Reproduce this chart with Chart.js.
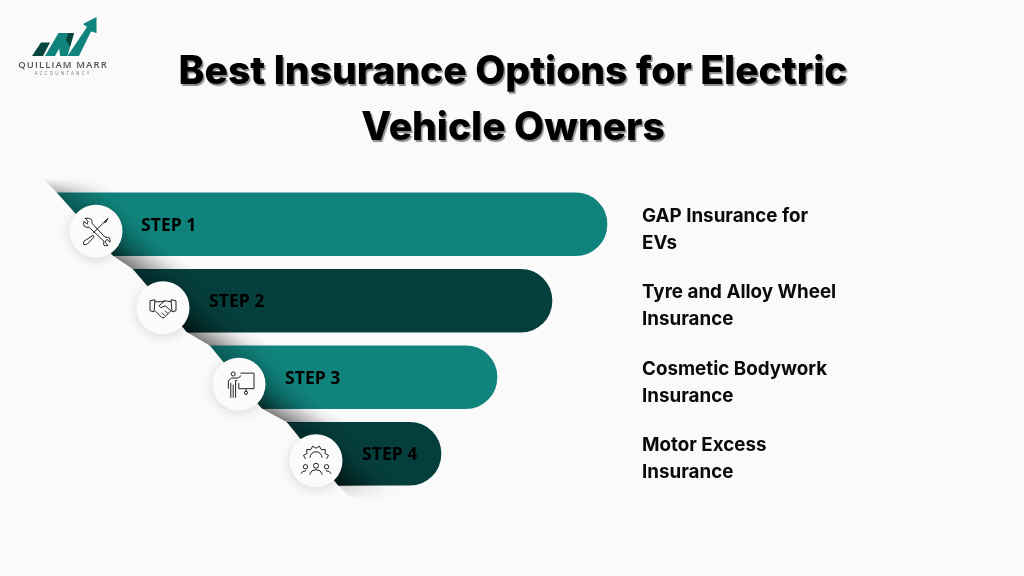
<!DOCTYPE html>
<html><head><meta charset="utf-8">
<style>
html,body{margin:0;padding:0;background:#fafafa;width:1024px;height:576px;overflow:hidden}
#c{position:absolute;left:0;top:0}
h1{position:absolute;left:0;width:1026px;top:42px;margin:0;text-align:center;font:800 39px/56px Inter,sans-serif;color:#000;text-shadow:1.5px 2px 1px #8a8a8a}
#logo{position:absolute;left:25px;top:10px}
.lg{position:absolute;left:0;width:126px;text-align:center;font-family:"Open Sans",sans-serif;color:#555;white-space:nowrap}
</style></head><body>
<canvas id="c" width="1024" height="576"></canvas>
<h1>Best Insurance Options for Electric<br>Vehicle Owners</h1>
<svg id="logo" width="85" height="50" viewBox="25 10 85 50">
<polygon points="32,56 41,42.5 50,42.5 43,56" fill="#07453f"/>
<polygon points="45,56 58.5,33 68,33 55,56" fill="#10837d"/>
<polygon points="59,46 68,33 74,33 67.5,56 60,56" fill="#10837d"/>
<polygon points="68,33 74,33 70,47 66,40" fill="#07453f"/>
<polygon points="67.5,56 79,56 91,31.5 96.5,33 96.5,17 83,24 87,27" fill="#10837d"/>
</svg>
<div class="lg" style="top:58px;font-size:9.5px;line-height:14px;font-weight:600;letter-spacing:1.1px;">QUILLIAM MARR</div>
<div class="lg" style="top:69px;font-size:4.5px;line-height:8px;letter-spacing:2.2px;color:#777">ACCOUNTANCY</div>
<script src="https://cdn.jsdelivr.net/npm/chart.js@4/dist/chart.umd.min.js"></script>
<script>
const categories=[["GAP Insurance for","EVs"],["Tyre and Alloy Wheel","Insurance"],["Cosmetic Bodywork","Insurance"],["Motor Excess","Insurance"]];
const stepLabels=["STEP 1","STEP 2","STEP 3","STEP 4"];
const barStarts=[57,133,210,287];
const barCutEnds=[113,187,262,338];
const barEnds=[607,552,497,441];
const barColors=["#10837d","#053f3d","#10837d","#053f3d"];
const circleX=[96,163,239,316];
const stepLabelX=[141,209,285,362];

const icons=[
 c=>{c.moveTo(-11,-13);c.lineTo(-8,-10);c.lineTo(-9,-7);c.lineTo(-12,-10);c.quadraticCurveTo(-14,-3,-7,-4);c.lineTo(8,10);c.quadraticCurveTo(6,16,12,14);c.lineTo(9,11);c.lineTo(11,8);c.lineTo(14,11);c.quadraticCurveTo(15,5,9,6);c.lineTo(-4,-8);c.quadraticCurveTo(-3,-14,-11,-13);
  c.moveTo(10,-11);c.lineTo(-3,2);c.moveTo(-3,4);c.lineTo(-12,10);c.quadraticCurveTo(-14,15,-9,13);c.lineTo(-2,6);c.closePath();c.moveTo(8,-9);c.lineTo(12,-13);c.lineTo(10,-9);c.closePath();},
 c=>{c.moveTo(-13,-7);c.lineTo(-8,-8);c.lineTo(-9,4);c.lineTo(-13,3);c.closePath();c.moveTo(13,-7);c.lineTo(8,-8);c.lineTo(9,4);c.lineTo(13,3);c.closePath();
  c.moveTo(-8,-6);c.lineTo(-2,-6);c.lineTo(2,-7);c.lineTo(8,-6);c.moveTo(8,3);c.lineTo(1,10);c.lineTo(-1,10);c.lineTo(-8,3);c.moveTo(2,-7);c.lineTo(-4,-2);c.lineTo(-2,0);c.lineTo(2,-2);c.lineTo(8,3);c.moveTo(-1,5);c.lineTo(2,8);c.moveTo(2,3);c.lineTo(5,6);},
 c=>{c.translate(3,2);c.scale(.8,.82);c.moveTo(-9,-15);c.arc(-11,-15,2.5,0,7);c.moveTo(-17,3);c.lineTo(-17,-7);c.lineTo(-13,-10);c.lineTo(-5,-10);c.lineTo(-1,-13);c.moveTo(-6,-7);c.lineTo(-8,-7);c.lineTo(-8,14);c.moveTo(-11,-2);c.lineTo(-11,14);c.moveTo(-14,-4);c.lineTo(-14,14);
  c.moveTo(-2,-16);c.lineTo(15,-16);c.lineTo(15,3);c.lineTo(-4,3);c.lineTo(-4,-4);c.moveTo(5,3);c.lineTo(5,7);c.moveTo(7,8);c.arc(5,8,2,0,7);},
 c=>{c.moveTo(-11,-2);for(let a=180;a<=360;a+=15){const r=a*Math.PI/180,R=(Math.floor((a-180)/15)%2)?13:10.5;c.lineTo(R*Math.cos(r),-2+R*Math.sin(r));}
  c.moveTo(6,-3);c.arc(0,-3,6,0,Math.PI,true);
  c.moveTo(2.5,5);c.arc(0,5,2.5,0,7);c.moveTo(-8,6);c.arc(-10.5,6,2.2,0,7);c.moveTo(13,6);c.arc(10.5,6,2.2,0,7);
  c.moveTo(-6,14);c.lineTo(-6,13);c.quadraticCurveTo(-5,9,0,9);c.quadraticCurveTo(5,9,6,13);c.lineTo(6,14);
  c.moveTo(-15,13);c.quadraticCurveTo(-14,10,-10,10);c.moveTo(15,13);c.quadraticCurveTo(14,10,10,10);}
];

function cutX(chart,y){
  const m=chart.getDatasetMeta(0).data,x=chart.scales.x;
  const pts=[];
  m.forEach((b,i)=>{pts.push([x.getPixelForValue(barStarts[i]),b.y-b.height/2]);pts.push([x.getPixelForValue(barCutEnds[i]),b.y+b.height/2]);});
  if(y<=pts[0][1]) return pts[0][0]-(pts[0][1]-y);
  for(let i=0;i<pts.length-1;i++) if(y<=pts[i+1][1]){const t=(y-pts[i][1])/(pts[i+1][1]-pts[i][1]);return pts[i][0]+t*(pts[i+1][0]-pts[i][0]);}
  return pts[pts.length-1][0]+(y-pts[pts.length-1][1]);
}

const cutPlugin={id:"cut",
 beforeDatasetsDraw(chart){
  const ctx=chart.ctx;
  ctx.save();ctx.beginPath();
  ctx.moveTo(1024,150);
  for(let y=150;y<=520;y+=2) ctx.lineTo(cutX(chart,y),y);
  ctx.lineTo(1024,520);ctx.closePath();ctx.clip();
 },
 afterDatasetsDraw(chart){
  const ctx=chart.ctx,m=chart.getDatasetMeta(0),x=chart.scales.x;
  const first=m.data[0],last=m.data[m.data.length-1];
  const barTop=first.y-first.height/2,barBot=last.y+last.height/2;
  const yTop=barTop-15,yBot=barBot+14;
  const nx=.72,w=46;
  for(let y=yTop;y<yBot;y++){
    let a=.55;
    m.data.forEach(b=>{const t=b.y-b.height/2,h=b.height;if(y>=t&&y<t+h){const f=(y-t)/h;a=.32+.5*f*f;}});
    if(y<barTop) a=.34*(y-yTop)/15;
    if(y>=barBot) a=.16*(yBot-y)/14;
    const xa=cutX(chart,y),dx=w/nx;
    const g=ctx.createLinearGradient(xa,y,xa+dx,y);
    g.addColorStop(0,`rgba(0,0,0,${a})`);g.addColorStop(.35,`rgba(0,0,0,${a*.5})`);g.addColorStop(.7,`rgba(0,0,0,${a*.13})`);g.addColorStop(1,"rgba(0,0,0,0)");
    ctx.fillStyle=g;ctx.fillRect(xa,y,dx,1);
  }
  ctx.restore();
  m.data.forEach((b,i)=>{
    const cx=x.getPixelForValue(circleX[i]),cy=b.y+7;
    ctx.save();
    ctx.shadowColor="rgba(0,0,0,.14)";ctx.shadowBlur=12;ctx.shadowOffsetY=2;
    ctx.fillStyle="#fbfbfb";ctx.beginPath();ctx.arc(cx,cy,26.5,0,Math.PI*2);ctx.fill();
    ctx.restore();
    ctx.save();ctx.translate(cx,cy);ctx.strokeStyle="#222";ctx.lineWidth=1;ctx.lineJoin="round";
    ctx.beginPath();icons[i](ctx);ctx.setTransform(1,0,0,1,0,0);ctx.stroke();ctx.restore();
    ctx.save();ctx.fillStyle="#000";ctx.font='700 17.6px "Open Sans",sans-serif';ctx.textBaseline="middle";ctx.textAlign="left";
    ctx.fillText(stepLabels[i],x.getPixelForValue(stepLabelX[i]),b.y+1.5);ctx.restore();
  });
 }
};

new Chart(document.getElementById("c"),{
 type:"bar",
 plugins:[cutPlugin],
 data:{labels:categories,datasets:[{data:barStarts.map((s,i)=>[s-20,barEnds[i]]),backgroundColor:barColors,
   barThickness:63,borderSkipped:false,
   borderRadius:{topLeft:0,bottomLeft:0,topRight:31.5,bottomRight:31.5}}]},
 options:{indexAxis:"y",responsive:false,animation:false,devicePixelRatio:1,
  layout:{padding:{top:186,bottom:84,left:0,right:0}},
  plugins:{legend:{display:false},tooltip:{enabled:false},title:{display:false}},
  scales:{
   x:{type:"linear",min:0,max:632,display:false},
   y:{position:"right",grid:{display:false,drawTicks:false},border:{display:false},
      afterFit(s){s.width=392;const base=Object.getPrototypeOf(s).getPixelForTick;s.getPixelForTick=function(i){return base.call(s,i)+5.5;};},
      ticks:{padding:10,autoSkip:false,maxRotation:0,color:"#0a0a0a",crossAlign:"near",
        font:{family:"Inter",size:18.8,weight:"700",lineHeight:1.44}}}
  }}
});
</script>
</body></html>
